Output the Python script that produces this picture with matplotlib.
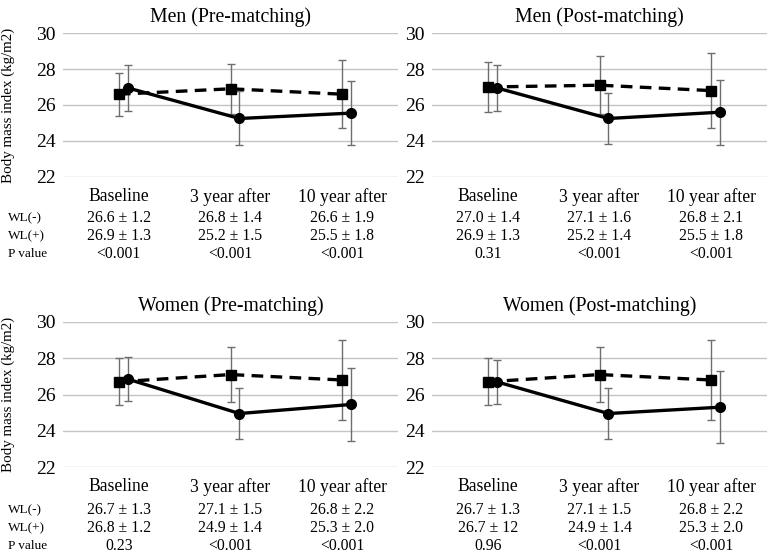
import matplotlib
matplotlib.use("Agg")
import matplotlib.pyplot as plt
import numpy as np

plt.rcParams['font.family'] = ['Liberation Serif', 'DejaVu Serif']

categories = ["Baseline", "3 year after", "10 year after"]
titles = ["Men (Pre-matching)", "Men (Post-matching)",
          "Women (Pre-matching)", "Women (Post-matching)"]

# WL(-) means / SD and WL(+) means / SD per panel
wl_neg_mean = [[26.6, 26.9, 26.6], [27.0, 27.1, 26.8], [26.7, 27.1, 26.8], [26.7, 27.1, 26.8]]
wl_neg_sd = [[1.2, 1.4, 1.9], [1.4, 1.6, 2.1], [1.3, 1.5, 2.2], [1.3, 1.5, 2.2]]
wl_pos_mean = [[26.95, 25.25, 25.55], [26.95, 25.25, 25.6], [26.85, 24.95, 25.45], [26.7, 24.95, 25.3]]
wl_pos_sd = [[1.3, 1.5, 1.8], [1.3, 1.4, 1.8], [1.2, 1.4, 2.0], [1.2, 1.4, 2.0]]

# Table text under each panel
tab_neg = [["26.6 ± 1.2", "26.8 ± 1.4", "26.6 ± 1.9"],
           ["27.0 ± 1.4", "27.1 ± 1.6", "26.8 ± 2.1"],
           ["26.7 ± 1.3", "27.1 ± 1.5", "26.8 ± 2.2"],
           ["26.7 ± 1.3", "27.1 ± 1.5", "26.8 ± 2.2"]]
tab_pos = [["26.9 ± 1.3", "25.2 ± 1.5", "25.5 ± 1.8"],
           ["26.9 ± 1.3", "25.2 ± 1.4", "25.5 ± 1.8"],
           ["26.8 ± 1.2", "24.9 ± 1.4", "25.3 ± 2.0"],
           ["26.7 ± 12", "24.9 ± 1.4", "25.3 ± 2.0"]]
tab_p = [["<0.001", "<0.001", "<0.001"],
         ["0.31", "<0.001", "<0.001"],
         ["0.23", "<0.001", "<0.001"],
         ["0.96", "<0.001", "<0.001"]]
row_labels = ["WL(-)", "WL(+)", "P value"]
yticks = [22, 24, 26, 28, 30]

W, H = 767, 558
fig = plt.figure(figsize=(W / 100, H / 100), dpi=100)

# panel pixel geometry: (left, right, top, bottom)
geom = [(63, 398, 33, 177), (432, 767, 33, 177),
        (63, 398, 322, 467), (432, 767, 322, 467)]
row_y = [[218, 236, 254], [218, 236, 254], [510, 528, 546], [510, 528, 546]]

x = np.arange(len(categories))
for i in range(4):
    l, r, t, b = geom[i]
    ax = fig.add_axes([l / W, 1 - b / H, (r - l) / W, (b - t) / H])
    ax.set_xlim(-0.5, 2.5)
    ax.set_ylim(22, 30)
    for s in ax.spines.values():
        s.set_visible(False)
    ax.set_yticks(yticks)
    ax.yaxis.grid(True, color='#c4c4c4', linewidth=1.0)
    ax.set_axisbelow(True)
    ax.tick_params(axis='both', length=0)
    ax.tick_params(axis='y', labelsize=14, pad=5)
    ax.set_xticks(x)
    ax.set_xticklabels(categories, fontsize=12.7)
    ax.tick_params(axis='x', pad=8)
    ax.set_title(titles[i], fontsize=14.2, pad=8)

    ax.errorbar(x, wl_neg_mean[i], yerr=wl_neg_sd[i], color='black', ecolor='#6e6e6e',
                elinewidth=1.0, capsize=3, capthick=1.0, linestyle=(0, (3.5, 2.2)),
                linewidth=2.4, marker='s', markersize=7, zorder=3)
    ax.errorbar(x + 0.08, wl_pos_mean[i], yerr=wl_pos_sd[i], color='black', ecolor='#6e6e6e',
                elinewidth=1.0, capsize=3, capthick=1.0, linestyle='-',
                linewidth=2.4, marker='o', markersize=7, zorder=3)

    if i % 2 == 0:
        ax.set_ylabel("Body mass index (kg/m2)", fontsize=10.8, labelpad=4)
        ax.yaxis.set_label_coords((15 - l) / (r - l), 0.5)
        for k, lab in enumerate(row_labels):
            fig.text(8 / W, 1 - row_y[i][k] / H, lab, fontsize=9.5, ha='left', va='center')

    tr = ax.get_xaxis_transform()
    for k, rowvals in enumerate([tab_neg[i], tab_pos[i], tab_p[i]]):
        yy = (b - row_y[i][k]) / (b - t)
        for j, txt in enumerate(rowvals):
            ax.text(x[j], yy, txt, transform=tr, fontsize=11.3, ha='center', va='center',
                    clip_on=False)

fig.savefig("out.png", dpi=100)
